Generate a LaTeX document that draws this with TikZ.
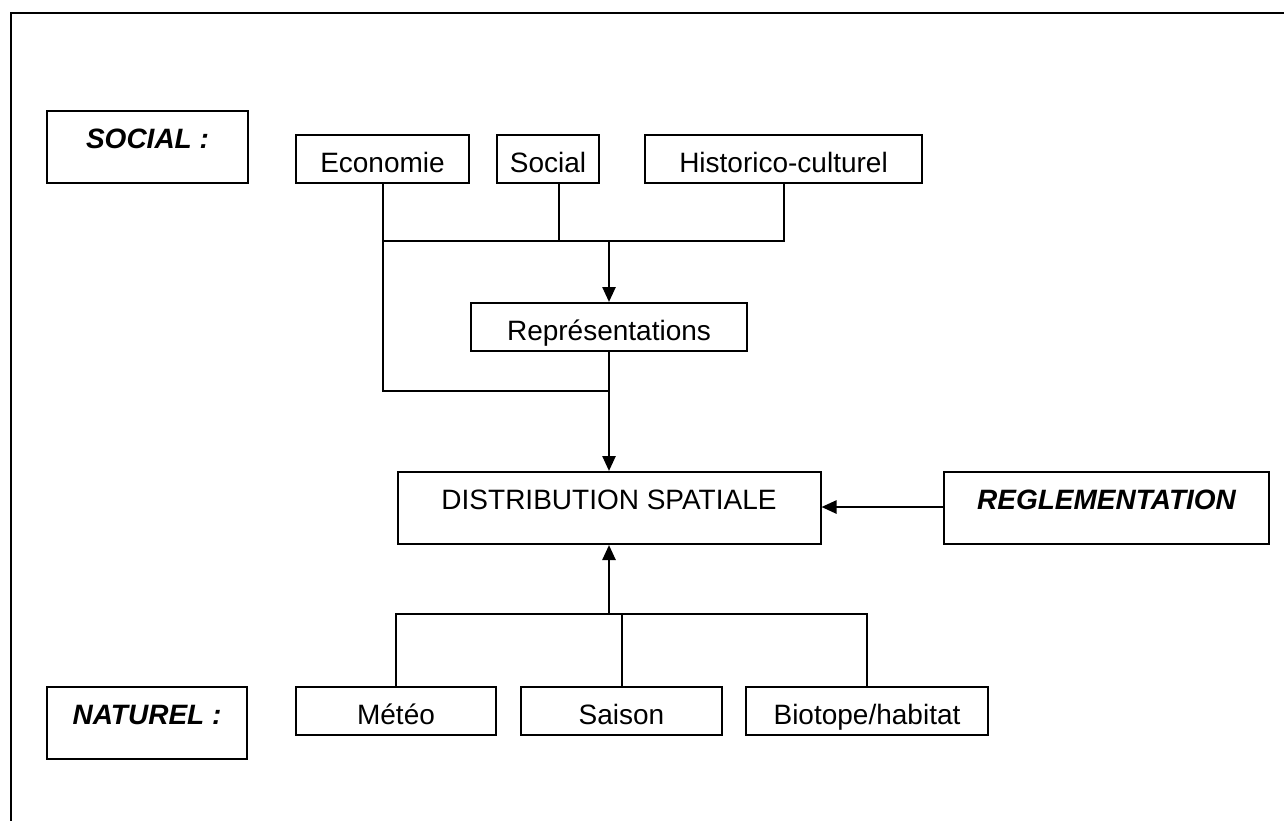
\documentclass[tikz,border=0pt]{standalone}
\usepackage{fontspec}
\setmainfont{Liberation Sans}
\usetikzlibrary{arrows.meta}

\tikzset{
    box/.style={draw, line width=2pt, inner sep=0pt, anchor=north west,
        align=center, text height=37pt, font=\fontsize{28}{34}\selectfont},
    smallbox/.style={box, text depth=11pt},
    tallbox/.style={box, text depth=35pt},
    heading/.style={tallbox, font=\fontsize{28}{34}\selectfont\bfseries\itshape},
    link/.style={line width=2pt},
    arrowlink/.style={line width=2.5pt, -{Triangle[length=15pt, width=13pt]}},
}

\begin{document}
\begin{tikzpicture}[x=1pt, y=-1pt]
    \useasboundingbox (0,0) rectangle (1284,820);
    \fill[white] (0,0) rectangle (1284,820);

    % Frame
    \draw[line width=2.5pt] (11,830) -- (11,13) -- (1300,13);

    % Social side
    \node[heading, minimum width=201pt] (social) at (46,110) {SOCIAL :};
    \node[smallbox, minimum width=173pt] (eco) at (295,134) {Economie};
    \node[smallbox, minimum width=102pt] (soc) at (496,134) {Social};
    \node[smallbox, minimum width=277pt] (hist) at (644,134) {Historico-culturel};
    \node[smallbox, minimum width=276pt] (repr) at (470,302) {Représentations};

    % Centre
    \node[tallbox, minimum width=423pt] (dist) at (396.5,471) {DISTRIBUTION SPATIALE};
    \node[heading, minimum width=325pt] (regl) at (943,471) {REGLEMENTATION};

    % Natural side
    \node[heading, minimum width=200pt] (nat) at (46,686) {NATUREL :};
    \node[smallbox, minimum width=200pt] (meteo) at (295,686) {Météo};
    \node[smallbox, minimum width=201pt] (saison) at (520,686) {Saison};
    \node[smallbox, minimum width=242pt] (bio) at (745,686) {Biotope/habitat};

    \coordinate (topbar) at (repr.north |- 0,241);
    \coordinate (joint) at (repr.south |- 0,391);
    \coordinate (botbar) at (dist.south |- 0,614);

    % Upper branches
    \draw[link] (eco.south |- topbar) -- (hist.south |- topbar) -- (hist.south);
    \draw[link] ([xshift=11pt]soc.south) -- ([xshift=11pt]soc.south |- topbar);
    \draw[link] (eco.south) |- (joint);
    \draw[arrowlink] (topbar) -- (repr.north);
    \draw[arrowlink] (repr.south) -- (dist.north);

    % Reglementation
    \draw[arrowlink] ([yshift=-36pt]regl.north west) -- ([yshift=-36pt]dist.north east);

    % Lower branches
    \draw[link] (meteo.north) |- (bio.north |- botbar) -- (bio.north);
    \draw[link] (saison.north) -- (saison.north |- botbar);
    \draw[arrowlink] (botbar) -- (dist.south);
\end{tikzpicture}
\end{document}
